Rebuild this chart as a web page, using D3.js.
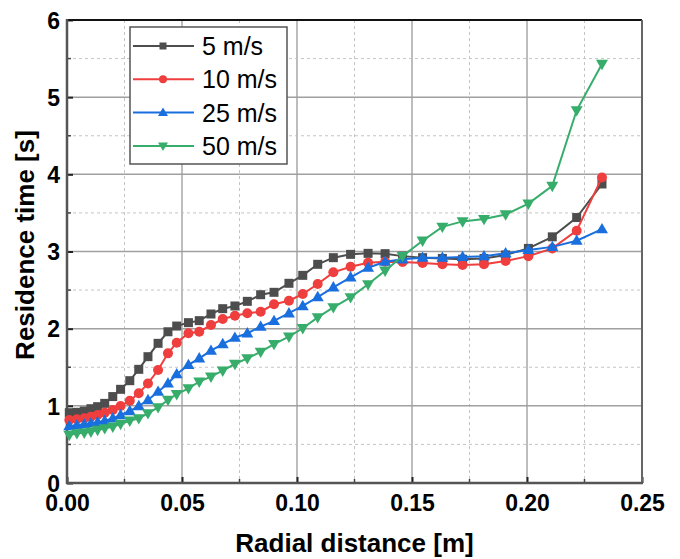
<!DOCTYPE html>
<html>
<head>
<meta charset="utf-8">
<script src="https://cdn.jsdelivr.net/npm/d3@7"></script>
<style>
  html, body { margin: 0; padding: 0; background: #fff; }
  svg { display: block; font-family: "Liberation Sans", Arial, sans-serif; }
</style>
</head>
<body>
<svg id="chart" width="680" height="559"></svg>
<script>
// Radial positions [m]
const radius = [0.0010, 0.0043, 0.0075, 0.0104, 0.0133, 0.0164, 0.0199, 0.0233, 0.0273, 0.0312,
  0.0352, 0.0396, 0.0439, 0.0477, 0.0528, 0.0575, 0.0626, 0.0677, 0.0730, 0.0784,
  0.0842, 0.0900, 0.0965, 0.1025, 0.1090, 0.1158, 0.1233, 0.1309, 0.1383, 0.1459,
  0.1546, 0.1632, 0.1720, 0.1813, 0.1907, 0.2006, 0.2110, 0.2216, 0.2326];

// Residence time [s] per inlet velocity
const t5 = [0.911, 0.916, 0.933, 0.963, 0.989, 1.032, 1.12, 1.214, 1.326, 1.473,
  1.637, 1.81, 1.96, 2.034, 2.078, 2.104, 2.190, 2.259, 2.294, 2.354,
  2.440, 2.471, 2.588, 2.691, 2.834, 2.920, 2.963, 2.976, 2.972, 2.94,
  2.92, 2.91, 2.90, 2.91, 2.955, 3.04, 3.19, 3.44, 3.875];
const t10 = [0.816, 0.825, 0.838, 0.86, 0.881, 0.911, 0.946, 0.998, 1.067, 1.162,
  1.29, 1.464, 1.68, 1.818, 1.940, 1.961, 2.047, 2.125, 2.168, 2.199,
  2.220, 2.316, 2.362, 2.449, 2.579, 2.730, 2.803, 2.855, 2.868, 2.864,
  2.85, 2.834, 2.825, 2.834, 2.877, 2.94, 3.04, 3.27, 3.96];
const t25 = [0.739, 0.747, 0.76, 0.773, 0.786, 0.807, 0.838, 0.881, 0.933, 0.998,
  1.076, 1.183, 1.29, 1.41, 1.53, 1.616, 1.715, 1.80, 1.883, 1.94,
  2.026, 2.10, 2.20, 2.294, 2.41, 2.536, 2.665, 2.79, 2.868, 2.899,
  2.92, 2.92, 2.93, 2.94, 2.976, 3.02, 3.06, 3.14, 3.29];
const t50 = [0.622, 0.644, 0.652, 0.665, 0.687, 0.709, 0.730, 0.765, 0.807, 0.838,
  0.903, 0.981, 1.076, 1.15, 1.227, 1.313, 1.378, 1.455, 1.542, 1.616,
  1.70, 1.80, 1.896, 2.005, 2.147, 2.277, 2.406, 2.575, 2.751, 2.94,
  3.14, 3.32, 3.39, 3.42, 3.48, 3.62, 3.85, 4.83, 5.43];

const seriesNames = ["5 m/s", "10 m/s", "25 m/s", "50 m/s"];
const seriesValues = [t5, t10, t25, t50];
const seriesColors = ["#4d4d4d", "#ef3e3e", "#1a6fdf", "#37ad6b"];
const seriesSymbols = ["square", "circle", "triangleUp", "triangleDown"];

const xTicks = [0, 0.05, 0.10, 0.15, 0.20, 0.25];
const yTicks = [0, 1, 2, 3, 4, 5, 6];
const xMinor = [0.025, 0.075, 0.125, 0.175, 0.225];
const yMinor = [0.5, 1.5, 2.5, 3.5, 4.5, 5.5];

const svg = d3.select("#chart");
const plotL = 67, plotR = 642, plotT = 20, plotB = 483;

const x = d3.scaleLinear().domain([0, 0.25]).range([plotL, plotR]);
const y = d3.scaleLinear().domain([0, 6]).range([plotB, plotT]);

// grid lines
const grid = svg.append("g");
grid.selectAll(".gxm").data(xMinor).join("line")
  .attr("x1", d => x(d)).attr("x2", d => x(d)).attr("y1", plotT).attr("y2", plotB)
  .attr("stroke", "#c4c4c4").attr("stroke-width", 1).attr("stroke-dasharray", "3,3");
grid.selectAll(".gym").data(yMinor).join("line")
  .attr("x1", plotL).attr("x2", plotR).attr("y1", d => y(d)).attr("y2", d => y(d))
  .attr("stroke", "#c4c4c4").attr("stroke-width", 1).attr("stroke-dasharray", "3,3");
grid.selectAll(".gx").data(xTicks.slice(1, -1)).join("line")
  .attr("x1", d => x(d)).attr("x2", d => x(d)).attr("y1", plotT).attr("y2", plotB)
  .attr("stroke", "#bdbdbd").attr("stroke-width", 2);
grid.selectAll(".gy").data(yTicks.slice(1, -1)).join("line")
  .attr("x1", plotL).attr("x2", plotR).attr("y1", d => y(d)).attr("y2", d => y(d))
  .attr("stroke", "#a0a0a0").attr("stroke-width", 1.5);

// axes with inward ticks
const xAxis = d3.axisBottom(x).tickValues(xTicks).tickSize(-6).tickFormat(d3.format(".2f"));
const yAxis = d3.axisLeft(y).tickValues(yTicks).tickSize(-6).tickFormat(d3.format("d"));

const gx = svg.append("g").attr("transform", `translate(0,${plotB})`).call(xAxis);
gx.select(".domain").remove();
gx.selectAll(".tick line").attr("stroke", "#222").attr("stroke-width", 2);
gx.selectAll(".tick text").attr("y", 12).attr("dy", "0.71em")
  .attr("font-size", 23).attr("font-weight", "bold").attr("fill", "#000")
  .attr("font-family", "Liberation Sans, Arial, sans-serif");

const gy = svg.append("g").attr("transform", `translate(${plotL},0)`).call(yAxis);
gy.select(".domain").remove();
gy.selectAll(".tick line").attr("stroke", "#222").attr("stroke-width", 2);
gy.selectAll(".tick text").attr("x", -7).attr("dy", "0.36em")
  .attr("font-size", 23).attr("font-weight", "bold").attr("fill", "#000")
  .attr("font-family", "Liberation Sans, Arial, sans-serif");

// minor ticks
svg.append("g").selectAll("line").data(xMinor).join("line")
  .attr("x1", d => x(d)).attr("x2", d => x(d)).attr("y1", plotB).attr("y2", plotB - 4)
  .attr("stroke", "#444").attr("stroke-width", 1.5);
svg.append("g").selectAll("line").data(yMinor).join("line")
  .attr("x1", plotL).attr("x2", plotL + 4).attr("y1", d => y(d)).attr("y2", d => y(d))
  .attr("stroke", "#444").attr("stroke-width", 1.5);

// frame
svg.append("line").attr("x1", plotL).attr("x2", plotR).attr("y1", plotT).attr("y2", plotT)
  .attr("stroke", "#111").attr("stroke-width", 2);
svg.append("line").attr("x1", plotR).attr("x2", plotR).attr("y1", plotT).attr("y2", plotB)
  .attr("stroke", "#666").attr("stroke-width", 2);
svg.append("line").attr("x1", plotL).attr("x2", plotL).attr("y1", plotT - 1).attr("y2", plotB + 1)
  .attr("stroke", "#555").attr("stroke-width", 2.5);
svg.append("line").attr("x1", plotL - 1).attr("x2", plotR + 1).attr("y1", plotB).attr("y2", plotB)
  .attr("stroke", "#555").attr("stroke-width", 2.5);

// marker shapes
function markerPath(type, s) {
  const p = d3.path();
  if (type === "square") {
    p.rect(-s / 2, -s / 2, s, s);
  } else if (type === "circle") {
    p.arc(0, 0, s / 2, 0, 2 * Math.PI);
  } else if (type === "triangleUp") {
    const h = s * Math.sqrt(3) / 2;
    p.moveTo(0, -h * 0.6); p.lineTo(s / 2, h * 0.4); p.lineTo(-s / 2, h * 0.4); p.closePath();
  } else {
    const h = s * Math.sqrt(3) / 2;
    p.moveTo(0, h * 0.6); p.lineTo(s / 2, -h * 0.4); p.lineTo(-s / 2, -h * 0.4); p.closePath();
  }
  return p.toString();
}
const markerSize = { square: 9, circle: 10, triangleUp: 12, triangleDown: 12 };
const legendSize = { square: 7, circle: 8, triangleUp: 10, triangleDown: 10 };

const line = d3.line().x(d => x(d[0])).y(d => y(d[1]));

seriesValues.forEach((vals, i) => {
  const pts = radius.map((r, k) => [r, vals[k]]);
  const g = svg.append("g");
  g.append("path").datum(pts).attr("d", line)
    .attr("fill", "none").attr("stroke", seriesColors[i]).attr("stroke-width", 2);
  g.selectAll("path.m").data(pts).join("path").attr("class", "m")
    .attr("transform", d => `translate(${x(d[0])},${y(d[1])})`)
    .attr("d", markerPath(seriesSymbols[i], markerSize[seriesSymbols[i]]))
    .attr("fill", seriesColors[i]);
});

// legend
const lg = svg.append("g");
lg.append("rect").attr("x", 130).attr("y", 27).attr("width", 157).attr("height", 137)
  .attr("fill", "#fff").attr("stroke", "#555").attr("stroke-width", 1.5);
seriesNames.forEach((name, i) => {
  const cy = 46 + i * 33.3;
  lg.append("line").attr("x1", 133).attr("x2", 194).attr("y1", cy).attr("y2", cy)
    .attr("stroke", seriesColors[i]).attr("stroke-width", 2);
  lg.append("path").attr("transform", `translate(163,${cy})`)
    .attr("d", markerPath(seriesSymbols[i], legendSize[seriesSymbols[i]]))
    .attr("fill", seriesColors[i]);
  lg.append("text").attr("x", 202).attr("y", cy).attr("dy", "0.36em")
    .attr("font-size", 25).attr("fill", "#000").text(name);
});

// axis titles
svg.append("text").attr("x", (plotL + plotR) / 2).attr("y", 552)
  .attr("text-anchor", "middle").attr("font-size", 26).attr("font-weight", "bold")
  .text("Radial distance [m]");
svg.append("text").attr("transform", "translate(34,245) rotate(-90)")
  .attr("text-anchor", "middle").attr("font-size", 26).attr("font-weight", "bold")
  .text("Residence time [s]");
</script>
</body>
</html>
